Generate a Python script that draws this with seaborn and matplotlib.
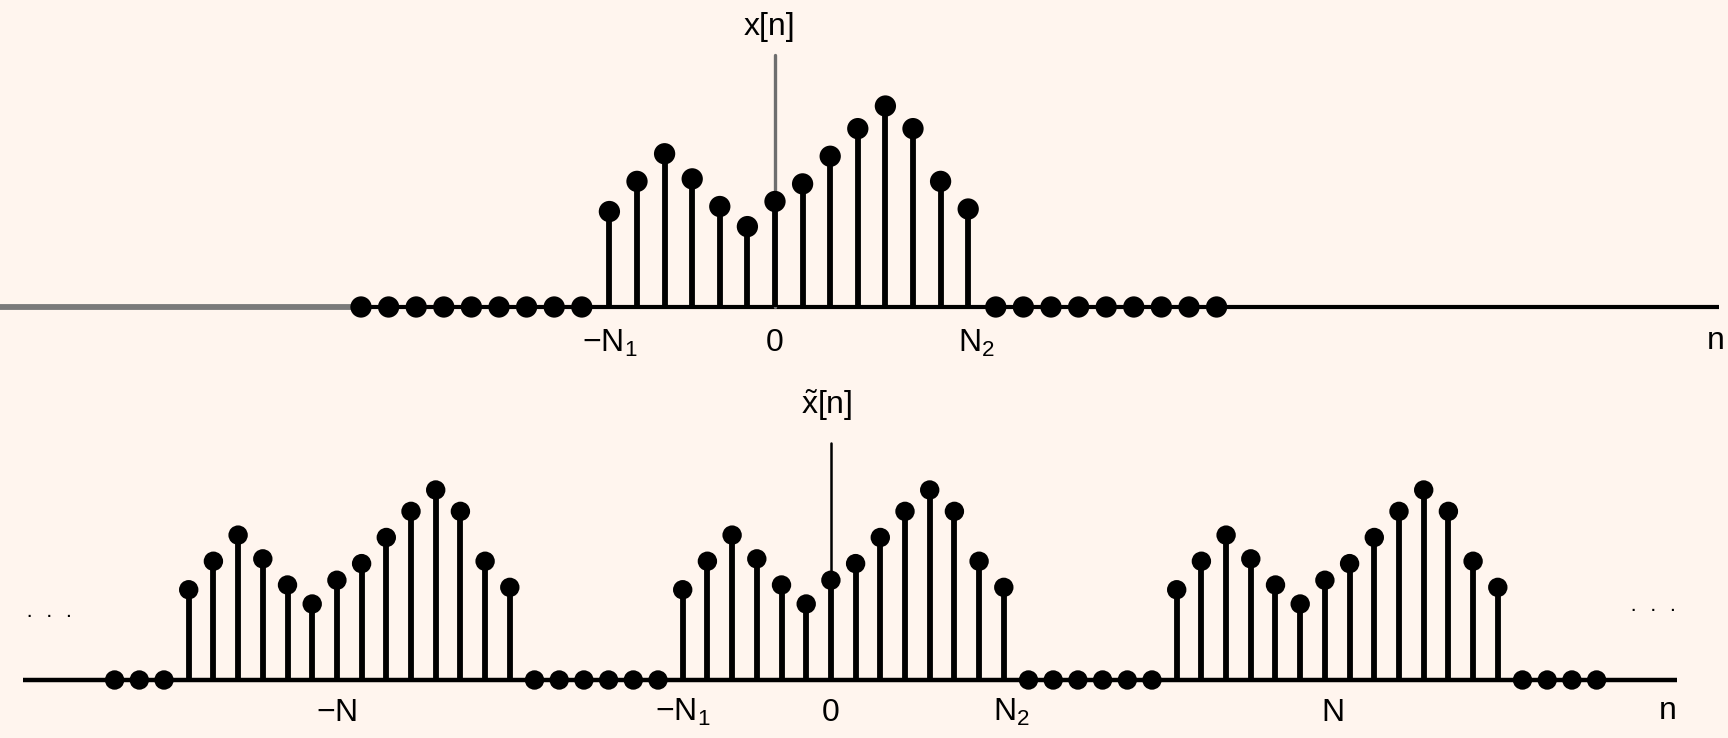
import numpy as np
import pandas as pd
import matplotlib
matplotlib.use("Agg")
import matplotlib.pyplot as plt
import seaborn as sns

sns.set_theme(style="white")
plt.rcParams["font.family"] = ["Liberation Sans", "DejaVu Sans"]
plt.rcParams["mathtext.fontset"] = "custom"
plt.rcParams["mathtext.rm"] = "Liberation Sans"
plt.rcParams["mathtext.it"] = "Liberation Sans:italic"
plt.rcParams["mathtext.default"] = "regular"

# ---------------- data ----------------
N1 = 6
N2 = 7
N = 20                                   # period of x~[n]
n_support = list(range(-N1, N2 + 1))     # -6 .. 7
x_values = [1.9, 2.5, 3.05, 2.55, 2.0, 1.6, 2.1, 2.45, 3.0, 3.55, 4.0, 3.55, 2.5, 1.95]
top_zero_n = [-15, -14, -13, -12, -11, -10, -9, -8, -7,
              8, 9, 10, 11, 12, 13, 14, 15, 16]
bottom_periods = [-1, 0, 1]
bottom_zero_n = [-29, -28, -27,
                 -12, -11, -10, -9, -8, -7,
                 8, 9, 10, 11, 12, 13,
                 28, 29, 30, 31]

top_labels = [(-N1, r"$-N_1$"), (0, "0"), (N2 + 0.3, r"$N_2$")]
bottom_labels = [(-N, "$-N$"), (-N1, r"$-N_1$"), (0, "0"), (N2 + 0.3, r"$N_2$"), (N + 0.3, "$N$")]

BG = "#FFF5EE"
INK = "black"

top_df = pd.DataFrame({"n": n_support, "x": x_values})
bot_df = pd.DataFrame({
    "n": [k * N + n for k in bottom_periods for n in n_support],
    "x": [v for k in bottom_periods for v in x_values],
})

fig = plt.figure(figsize=(17.28, 7.38), dpi=100)
fig.patch.set_facecolor(BG)

ax1 = fig.add_axes([0, 1 - 370 / 738, 1, 370 / 738])
ax2 = fig.add_axes([0, 0, 1, 368 / 738])
for ax in (ax1, ax2):
    ax.set_facecolor(BG)
    ax.set_axis_off()

# ---------------- top panel: x[n] ----------------
ax1.set_xlim(-28.08, 34.53)
ax1.set_ylim(-1.254, 6.11)
ax1.plot([-28.08, -15], [0, 0], color="#7a7a7a", lw=4.2, solid_capstyle="butt", zorder=1)
ax1.plot([-15, 34.2], [0, 0], color=INK, lw=3.0, solid_capstyle="butt", zorder=1)
ax1.plot([0, 0], [0, 5.02], color="#6e6e6e", lw=2.4, zorder=1)
ax1.vlines(top_df["n"], 0, top_df["x"], colors=INK, lw=4.2, zorder=2)
sns.scatterplot(data=top_df, x="n", y="x", ax=ax1, s=235, color=INK,
                edgecolor="none", zorder=3, legend=False)
sns.scatterplot(x=top_zero_n, y=[0] * len(top_zero_n), ax=ax1, s=235, color=INK,
                edgecolor="none", zorder=3, legend=False)
for xpos, lab in top_labels:
    ax1.text(xpos, -0.72, lab, ha="center", va="center", fontsize=23, color=INK)
ax1.text(-0.2, 5.57, "x[n]", ha="center", va="center", fontsize=23, color=INK)
ax1.text(34.1, -0.68, "n", ha="center", va="center", fontsize=23, color=INK)
ax1.set_xlabel("")
ax1.set_ylabel("")

# ---------------- bottom panel: x~[n] ----------------
ax2.set_xlim(-33.64, 36.32)
ax2.set_ylim(-1.221, 6.526)
ax2.plot([-32.7, 34.25], [0, 0], color=INK, lw=3.2, solid_capstyle="butt", zorder=1)
ax2.plot([0, 0], [0, 4.99], color=INK, lw=1.8, zorder=1)
ax2.vlines(bot_df["n"], 0, bot_df["x"], colors=INK, lw=4.2, zorder=2)
sns.scatterplot(data=bot_df, x="n", y="x", ax=ax2, s=195, color=INK,
                edgecolor="none", zorder=3, legend=False)
sns.scatterplot(x=bottom_zero_n, y=[0] * len(bottom_zero_n), ax=ax2, s=195, color=INK,
                edgecolor="none", zorder=3, legend=False)
for xpos, lab in bottom_labels:
    ax2.text(xpos, -0.69, lab, ha="center", va="center", fontsize=23, color=INK)
ax2.text(-0.16, 5.79, r"$\tilde{x}[n]$", ha="center", va="center", fontsize=23, color=INK)
ax2.text(33.9, -0.65, "n", ha="center", va="center", fontsize=23, color=INK)
ax2.text(-31.66, 1.33, "·  ·  ·", ha="center", va="center", fontsize=16, color=INK)
ax2.text(33.3, 1.47, "·  ·  ·", ha="center", va="center", fontsize=16, color=INK)
ax2.set_xlabel("")
ax2.set_ylabel("")

fig.savefig("out.png", dpi=100, facecolor=BG)
